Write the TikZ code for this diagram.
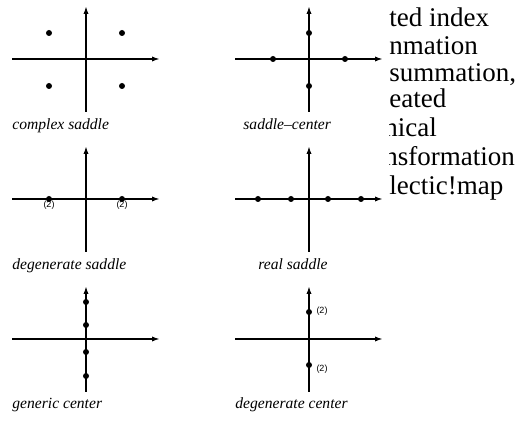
\documentclass[tikz,border=0pt]{standalone}
\usepackage{fontspec}
\setmainfont{Liberation Serif}
\newfontfamily\multfont{Liberation Sans}
\usetikzlibrary{arrows.meta}
\begin{document}
\begin{tikzpicture}[x=0.5pt,y=-0.5pt,
  axis/.style={line width=0.85pt,-{Latex[length=4pt,width=2.6pt]}},
  root/.style={circle,fill=black,inner sep=0pt,minimum size=3pt},
  caption/.style={anchor=base west,inner sep=0pt,font=\fontsize{7.8}{9}\selectfont\itshape},
  mult/.style={inner sep=0pt,font=\multfont\fontsize{4.5}{5}\selectfont},
  indextext/.style={anchor=base west,inner sep=0pt,font=\fontsize{13.5}{16}\selectfont}]
  \useasboundingbox (0,0) rectangle (526,421);
  % axes of the six eigenvalue planes
  \foreach \cx/\cy in {86/59,309/59,86/199,309/199,86/339,309/339}{
    \draw[axis] (\cx-74,\cy) -- (\cx+74,\cy);
    \draw[axis] (\cx,\cy+53) -- (\cx,\cy-53);
  }
  % complex saddle
  \node[root] (cs1) at (49,33) {};
  \node[root] (cs2) at (122,33) {};
  \node[root] (cs3) at (49,86) {};
  \node[root] (cs4) at (122,86) {};
  \node[caption] (lcs) at (12,130) {complex saddle};
  % saddle-center
  \node[root] (sc1) at (273,59) {};
  \node[root] (sc2) at (345,59) {};
  \node[root] (sc3) at (309,33) {};
  \node[root] (sc4) at (309,86) {};
  \node[caption] (lsc) at (243,130) {saddle--center};
  % degenerate saddle
  \node[root] (ds1) at (49,199) {};
  \node[root] (ds2) at (122,199) {};
  \node[mult] (mds1) at (49,205) {(2)};
  \node[mult] (mds2) at (122,205) {(2)};
  \node[caption] (lds) at (12,270) {degenerate saddle};
  % real saddle
  \node[root] (rs1) at (258,199) {};
  \node[root] (rs2) at (291,199) {};
  \node[root] (rs3) at (328,199) {};
  \node[root] (rs4) at (361,199) {};
  \node[caption] (lrs) at (258,270) {real saddle};
  % generic center
  \node[root] (gc1) at (86,302) {};
  \node[root] (gc2) at (86,325) {};
  \node[root] (gc3) at (86,352) {};
  \node[root] (gc4) at (86,376) {};
  \node[caption] (lgc) at (12,409) {generic center};
  % degenerate center
  \node[root] (dc1) at (309,312) {};
  \node[root] (dc2) at (309,365) {};
  \node[mult] (mdc1) at (322,311) {(2)};
  \node[mult] (mdc2) at (322,369) {(2)};
  \node[caption] (ldc) at (235,409) {degenerate center};
  % index text cut off at the right
  \begin{scope}
    \clip (389,0) rectangle (526,421);
    \node[indextext] (ix1) at (389,27) {ted index};
    \node[indextext] (ix2) at (389,55) {nmation};
    \node[indextext] (ix3) at (389,82) {summation,};
    \node[indextext] (ix4) at (389,108) {eated};
    \node[indextext] (ix5) at (384,137) {nical};
    \node[indextext] (ix6) at (384,166) {nsformation};
    \node[indextext] (ix7) at (389,195) {lectic!map};
  \end{scope}
\end{tikzpicture}
\end{document}
